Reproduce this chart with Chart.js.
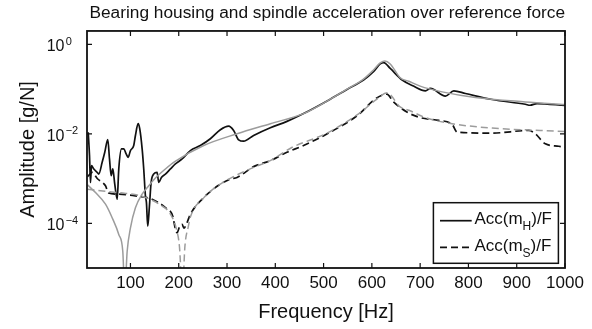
<!DOCTYPE html>
<html><head><meta charset="utf-8">
<script src="https://cdn.jsdelivr.net/npm/chart.js@4"></script>
<style>html,body{margin:0;padding:0;background:#fff}#wrap{width:592px;height:329px;position:relative}</style>
</head><body><div id="wrap"><canvas id="c"></canvas></div>
<script>
const titleText = 'Bearing housing and spindle acceleration over reference force';
const xTitle = 'Frequency [Hz]';
const yTitle = 'Amplitude [g/N]';
const xTicks = [100, 200, 300, 400, 500, 600, 700, 800, 900, 1000];
const yTickExps = [0, -2, -4];
const legendLabels = [['Acc(m', 'H', ')/F'], ['Acc(m', 'S', ')/F']];

// Acc(m_H)/F measured
const hFreq = [12.5,15.2,17.2,19.3,24.1,31.1,34.4,41.4,46.8,53.0,56.6,60.1,63.4,67.5,72.5,75.8,81.4,86.1,91.1,95.2,100,106.8,110.3,115.9,119.2,124.2,127.5,131.0,133.1,135.8,139.3,142.8,148.2,155.2,158.6,164.1,172.4,182.8,193.1,207.0,224.1,244.8,265.5,286.2,303.4,313.7,324.1,334.4,355.1,389.7,424.2,458.6,513.8,548.4,582.7,603.4,617.3,624.5,638.0,662.8,686.2,711.0,721.3,752.4,769.7,793.7,849.0,917.9,927.6,942.1,1000];
const hAmp = [0.0109,0.00326,0.000817,0.00194,0.00164,0.00137,0.00126,0.00231,0.00387,0.00748,0.00275,0.00116,0.00164,0.000752,0.000345,0.00164,0.00462,0.00462,0.00356,0.00299,0.00423,0.00548,0.0092,0.01688,0.01303,0.00462,0.00164,0.00041,0.00029,0.0000865,0.000244,0.000817,0.00126,0.00137,0.000817,0.00106,0.00126,0.00164,0.00212,0.00275,0.00423,0.00548,0.00776,0.01236,0.0149,0.01193,0.00736,0.00685,0.0092,0.01372,0.019,0.0284,0.0596,0.0985,0.16,0.245,0.366,0.391,0.29,0.16,0.117,0.0916,0.104,0.0696,0.0916,0.08,0.0586,0.0459,0.0436,0.0476,0.043];

// Acc(m_S)/F measured
const sFreq = [11.0,20.8,31.7,48.3,54.5,75.8,110.3,144.9,172.4,187.5,193.1,196.6,201.4,207.0,210.7,215.9,224.1,251.7,286.2,306.9,320.8,355.1,389.7,424.2,458.6,513.8,573.2,603.4,620.8,631.1,644.8,672.5,700.0,738.7,766.2,776.6,849.0,924.9,938.6,959.3,987.0,1000];
const sAmp = [0.0011,0.00137,0.00099,0.00069,0.000479,0.000448,0.00041,0.000345,0.000223,0.000145,0.000074,0.0000611,0.000082,0.0000944,0.000078,0.0000959,0.000159,0.000375,0.000752,0.000975,0.00106,0.00185,0.00252,0.00387,0.00548,0.0109,0.0274,0.0565,0.0733,0.0771,0.0518,0.0308,0.0231,0.02,0.0163,0.0109,0.0104,0.0119,0.01005,0.00598,0.00528,0.00501];

// model curves (gray)
const hModelFreq = [11.0,27.6,48.3,62.1,75.8,84.1,88.2,93.2,100,110.3,124.2,137.9,151.7,172.4,191.7,251.7,320.8,389.7,458.6,513.8,548.4,582.7,603.4,617.3,627.0,638.0,658.6,676.6,700.0,745.5,814.4,917.9,1000];
const hModelAmp = [0.000725,0.000486,0.000267,0.000133,0.0000562,0.0000237,0.000003,0.0000237,0.0000792,0.000223,0.000448,0.000689,0.001026,0.001637,0.00239,0.00548,0.01005,0.01688,0.0284,0.0596,0.1,0.168,0.268,0.385,0.427,0.366,0.18,0.15,0.117,0.0869,0.065,0.0518,0.0452];
const sModelFreq = [11.0,37.9,79.3,120.7,162.1,182.8,195.2,201.4,207.6,212.8,220.0,224.1,251.7,286.2,355.1,389.7,435.2,504.1,573.2,607.5,631.7,658.6,676.6,711.0,766.2,849.0,948.3,1000];
const sModelAmp = [0.00058,0.000531,0.000479,0.00041,0.000257,0.000161,0.000074,0.0000306,0.000003,0.0000306,0.0000865,0.000138,0.00037,0.000752,0.00178,0.00252,0.00501,0.01005,0.0284,0.0565,0.0826,0.0399,0.0337,0.0231,0.01688,0.01344,0.0119,0.01132];

const FONT = '"Liberation Sans", Arial, Helvetica, sans-serif';
const INK = '#111111';
const GRAY = '#9c9c9c';
const yTickVals = yTickExps.map(e => Math.pow(10, e));
const pts = (xs, ys) => xs.map((x, i) => ({ x: x, y: ys[i] }));

const framePlugin = {
  id: 'frame',
  afterDatasetsDraw(chart) {
    const { ctx, chartArea: a, scales: { x, y } } = chart;
    ctx.save();
    // inward ticks on all four sides
    ctx.strokeStyle = INK;
    ctx.lineWidth = 1.2;
    ctx.beginPath();
    xTicks.forEach(v => {
      const px = x.getPixelForValue(v);
      ctx.moveTo(px, a.bottom); ctx.lineTo(px, a.bottom - 5);
      ctx.moveTo(px, a.top); ctx.lineTo(px, a.top + 5);
    });
    yTickVals.forEach(v => {
      const py = y.getPixelForValue(v);
      ctx.moveTo(a.left, py); ctx.lineTo(a.left + 5, py);
      ctx.moveTo(a.right, py); ctx.lineTo(a.right - 5, py);
    });
    ctx.stroke();
    ctx.lineWidth = 1.8;
    ctx.strokeRect(a.left, a.top, a.right - a.left, a.bottom - a.top);

    // y tick labels 10^n
    ctx.fillStyle = INK;
    ctx.textAlign = 'left';
    ctx.textBaseline = 'alphabetic';
    yTickVals.forEach((v, i) => {
      const py = y.getPixelForValue(v);
      const lx = a.left - 40.3;
      ctx.font = '16px ' + FONT;
      ctx.fillText('10', lx, py + 6.7);
      const w = ctx.measureText('10').width;
      ctx.font = '11px ' + FONT;
      const e = yTickExps[i];
      ctx.fillText(e < 0 ? '\u2212' + Math.abs(e) : String(e), lx + w + 1.2, py + 0.3);
    });

    // legend
    const bw = 125, bh = 60.6;
    const bx = a.right - 6.6 - bw, by = a.bottom - 4.7 - bh;
    ctx.fillStyle = '#ffffff';
    ctx.fillRect(bx, by, bw, bh);
    ctx.strokeStyle = INK;
    ctx.lineWidth = 1.5;
    ctx.strokeRect(bx, by, bw, bh);
    const rows = [by + 18, by + 44.6];
    legendLabels.forEach((parts, i) => {
      const ds = chart.data.datasets[i];
      const ly = rows[i];
      ctx.save();
      ctx.strokeStyle = ds.borderColor;
      ctx.lineWidth = ds.borderWidth;
      ctx.setLineDash(ds.borderDash || []);
      ctx.beginPath();
      ctx.moveTo(bx + 6.6, ly); ctx.lineTo(bx + 38.3, ly);
      ctx.stroke();
      ctx.restore();
      let tx = bx + 41;
      const base = ly + 3.2;
      ctx.fillStyle = INK;
      ctx.font = '17px ' + FONT;
      ctx.fillText(parts[0], tx, base);
      tx += ctx.measureText(parts[0]).width;
      ctx.font = '12px ' + FONT;
      ctx.fillText(parts[1], tx, base + 6.5);
      tx += ctx.measureText(parts[1]).width;
      ctx.font = '17px ' + FONT;
      ctx.fillText(parts[2], tx, base);
    });
    ctx.restore();
  }
};

new Chart(document.getElementById('c'), {
  type: 'line',
  data: {
    datasets: [
      { label: 'Acc(m_H)/F', data: pts(hFreq, hAmp), borderColor: INK, borderWidth: 1.7, order: 2 },
      { label: 'Acc(m_S)/F', data: pts(sFreq, sAmp), borderColor: INK, borderWidth: 1.7, borderDash: [7, 4], order: 2 },
      { label: 'Model H', data: pts(hModelFreq, hModelAmp), borderColor: GRAY, borderWidth: 1.5, order: 1 },
      { label: 'Model S', data: pts(sModelFreq, sModelAmp), borderColor: GRAY, borderWidth: 1.5, borderDash: [7, 4], order: 1 }
    ]
  },
  options: {
    responsive: true,
    maintainAspectRatio: false,
    animation: false,
    events: [],
    elements: {
      point: { radius: 0 },
      line: { cubicInterpolationMode: 'monotone', fill: false }
    },
    layout: { padding: { left: 0, right: 27, top: 0, bottom: 0 } },
    plugins: {
      legend: { display: false },
      tooltip: { enabled: false },
      title: {
        display: true, text: titleText, color: INK, align: 'end',
        font: { family: FONT, size: 17.3, weight: 'normal', lineHeight: 1.2 },
        padding: { top: 3, bottom: 7.2 }
      }
    },
    scales: {
      x: {
        type: 'linear', min: 10, max: 1000,
        afterBuildTicks: s => { s.ticks = xTicks.map(v => ({ value: v })); },
        afterFit: s => { s.height = 61; s.paddingLeft = 0; s.paddingRight = 0; },
        grid: { display: false, drawTicks: false },
        border: { display: false },
        ticks: { padding: 5, color: INK, font: { family: FONT, size: 17 }, maxRotation: 0, autoSkip: false, callback: v => String(v) },
        title: { display: true, text: xTitle, color: INK, font: { family: FONT, size: 20, weight: 'normal' }, padding: { top: 0, bottom: 5 } }
      },
      y: {
        type: 'logarithmic', min: 1e-5, max: 2,
        afterBuildTicks: s => { s.ticks = yTickVals.map(v => ({ value: v })); },
        afterFit: s => { s.width = 87; s.paddingTop = 0; s.paddingBottom = 0; },
        grid: { display: false, drawTicks: false },
        border: { display: false },
        ticks: { display: false },
        title: { display: true, text: yTitle, color: INK, font: { family: FONT, size: 20, weight: 'normal' }, padding: { top: 16, bottom: 0 } }
      }
    }
  },
  plugins: [framePlugin]
});
</script>
</body></html>
